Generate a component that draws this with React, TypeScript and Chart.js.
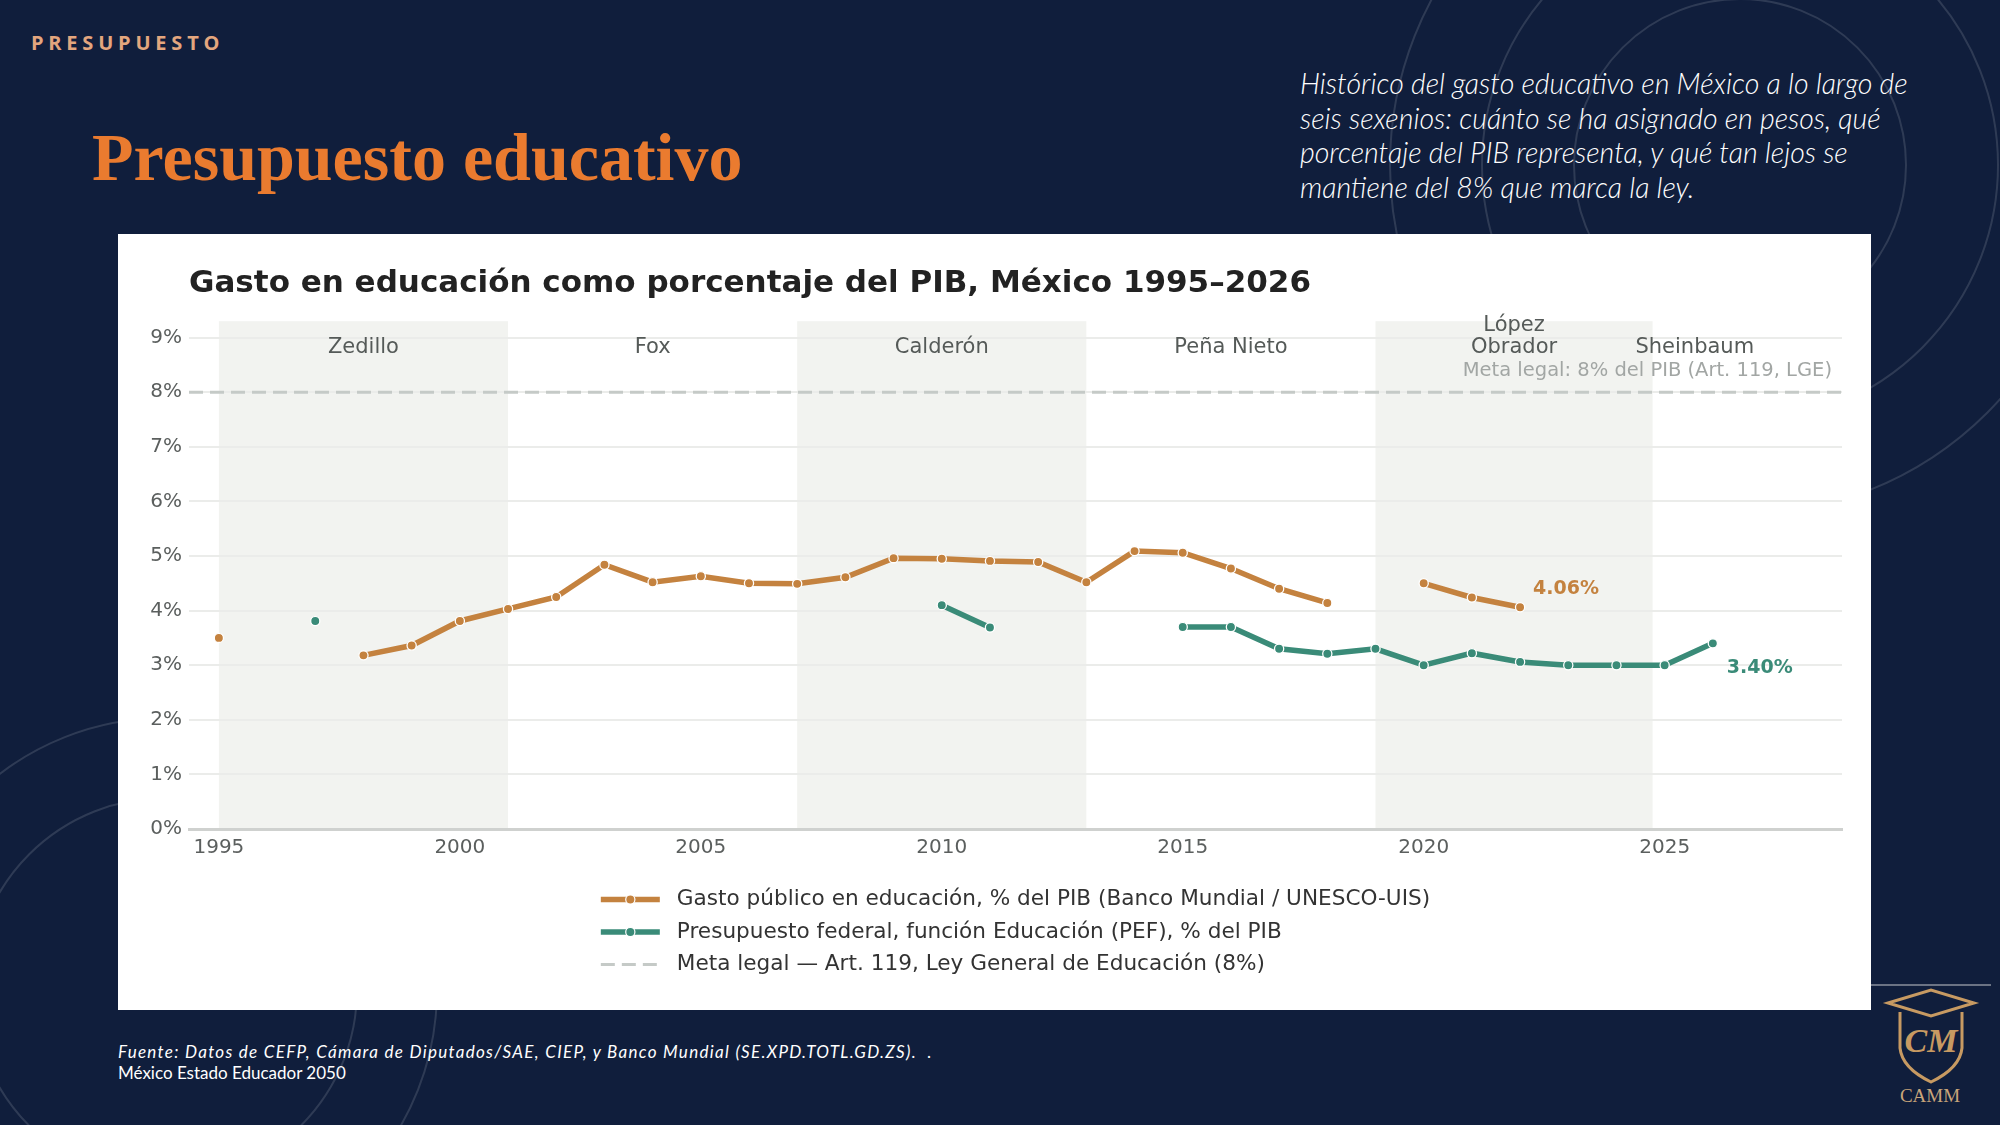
import { useEffect, useRef } from "react";
import { Chart, registerables } from "chart.js";

Chart.register(...registerables);

// ---------- data ----------
const years = [
  1995, 1996, 1997, 1998, 1999, 2000, 2001, 2002, 2003, 2004, 2005, 2006, 2007, 2008, 2009, 2010,
  2011, 2012, 2013, 2014, 2015, 2016, 2017, 2018, 2019, 2020, 2021, 2022, 2023, 2024, 2025, 2026,
];
// Gasto público en educación, % del PIB (Banco Mundial / UNESCO-UIS)
const gastoPublico: (number | null)[] = [
  3.5, null, null, 3.18, 3.36, 3.81, 4.03, 4.25, 4.84, 4.52, 4.63, 4.5, 4.49, 4.61, 4.96, 4.95,
  4.91, 4.89, 4.52, 5.09, 5.06, 4.77, 4.4, 4.14, null, 4.5, 4.24, 4.06, null, null, null, null,
];
// Presupuesto federal, función Educación (PEF), % del PIB
const presupuestoFederal: (number | null)[] = [
  null, null, 3.81, null, null, null, null, null, null, null, null, null, null, null, null, 4.1,
  3.69, null, null, null, 3.7, 3.7, 3.3, 3.21, 3.3, 3.0, 3.22, 3.06, 3.0, 3.0, 3.0, 3.4,
];
const metaLegal = 8;

const seriesLabels = [
  "Gasto público en educación, % del PIB (Banco Mundial / UNESCO-UIS)",
  "Presupuesto federal, función Educación (PEF), % del PIB",
  "Meta legal — Art. 119, Ley General de Educación (8%)",
];

const periodNames = ["Zedillo", "Fox", "Calderón", "Peña Nieto", "López\nObrador", "Sheinbaum"];
const periodStarts = [1995, 2001, 2007, 2013, 2019, 2024.75];
const periodEnds = [2001, 2007, 2013, 2019, 2024.75, 2026.5];

const xTicks = [1995, 2000, 2005, 2010, 2015, 2020, 2025];
const yTicks = [0, 1, 2, 3, 4, 5, 6, 7, 8, 9];

const X_MIN = 1994.38;
const X_MAX = 2028.68;
const Y_MAX = 9.3;

const CHART_TITLE = "Gasto en educación como porcentaje del PIB, México 1995–2026";
const META_LABEL = "Meta legal: 8% del PIB (Art. 119, LGE)";

// ---------- styles ----------
const ORANGE = "#c4823f";
const TEAL = "#3a8b78";
const META_GRAY = "#c5cac7";
const BAND = "#f2f3f0";
const FONT = "'DejaVu Sans', sans-serif";
const NAVY = "#101e3c";

const bandsPlugin = {
  id: "bands",
  beforeDraw(chart: any) {
    const { ctx, chartArea } = chart;
    const x = chart.scales.x;
    ctx.save();
    ctx.fillStyle = BAND;
    periodStarts.forEach((s, i) => {
      if (i % 2 !== 0) return;
      const x0 = x.getPixelForValue(s);
      const x1 = x.getPixelForValue(periodEnds[i]);
      ctx.fillRect(x0, chartArea.top, x1 - x0, chartArea.bottom - chartArea.top);
    });
    ctx.restore();
  },
};

const annotationsPlugin = {
  id: "annotations",
  afterDraw(chart: any) {
    const { ctx, chartArea } = chart;
    const x = chart.scales.x;
    const y = chart.scales.y;
    ctx.save();
    // period labels
    ctx.font = `21px ${FONT}`;
    ctx.fillStyle = "#555a58";
    ctx.textAlign = "center";
    ctx.textBaseline = "middle";
    periodNames.forEach((name, i) => {
      const cx = x.getPixelForValue((periodStarts[i] + periodEnds[i]) / 2);
      const lines = name.split("\n");
      const baseY = chartArea.top + 26;
      lines.forEach((ln, j) => {
        ctx.fillText(ln, cx, baseY - (lines.length - 1 - j) * 22);
      });
    });
    // meta label
    ctx.font = `19.5px ${FONT}`;
    ctx.fillStyle = "#a2a6a4";
    ctx.textAlign = "right";
    ctx.fillText(META_LABEL, chartArea.right - 10, y.getPixelForValue(metaLegal) - 21);
    // end labels
    const endLabel = (arr: (number | null)[], color: string, dx: number, dy: number) => {
      let idx = arr.length - 1;
      while (idx >= 0 && arr[idx] == null) idx--;
      const v = arr[idx] as number;
      const px = x.getPixelForValue(years[idx]);
      const py = y.getPixelForValue(v);
      ctx.font = `bold 19px ${FONT}`;
      ctx.fillStyle = color;
      ctx.textAlign = "left";
      ctx.textBaseline = "middle";
      ctx.fillText(v.toFixed(2) + "%", px + dx, py + dy);
    };
    endLabel(gastoPublico, ORANGE, 13, -18);
    endLabel(presupuestoFederal, TEAL, 14, 25);

    // stacked legend
    const ds = chart.data.datasets;
    ctx.font = `21.6px ${FONT}`;
    const maxW = Math.max(...ds.map((d: any) => ctx.measureText(d.label).width));
    const sampleW = 59;
    const gap = 17;
    const blockW = sampleW + gap + maxW;
    const left = (chartArea.left + chartArea.right) / 2 - blockW / 2;
    ds.forEach((d: any, i: number) => {
      const ly = chartArea.bottom + 70.5 + i * 32.5;
      ctx.save();
      ctx.strokeStyle = d.borderColor;
      ctx.lineWidth = d.borderDash ? 3 : 5.5;
      ctx.setLineDash(d.borderDash || []);
      ctx.beginPath();
      ctx.moveTo(left, ly);
      ctx.lineTo(left + sampleW, ly);
      ctx.stroke();
      if (d.pointRadius > 0) {
        ctx.setLineDash([]);
        ctx.beginPath();
        ctx.arc(left + sampleW / 2, ly, d.pointRadius, 0, Math.PI * 2);
        ctx.fillStyle = d.borderColor;
        ctx.fill();
        ctx.lineWidth = 1.2;
        ctx.strokeStyle = "#fff";
        ctx.stroke();
      }
      ctx.restore();
      ctx.fillStyle = "#333";
      ctx.textAlign = "left";
      ctx.textBaseline = "middle";
      ctx.fillText(d.label, left + sampleW + gap, ly);
    });
    ctx.restore();
  },
};

function ChartPanel() {
  const ref = useRef<HTMLCanvasElement | null>(null);
  useEffect(() => {
    if (!ref.current) return;
    const lineDs = (label: string, arr: (number | null)[], color: string) => ({
      label,
      data: years.map((yr, i) => ({ x: yr, y: arr[i] })),
      borderColor: color,
      backgroundColor: color,
      pointBackgroundColor: color,
      pointBorderColor: "#ffffff",
      pointBorderWidth: 1.3,
      pointRadius: 4.6,
      borderWidth: 5.5,
      spanGaps: false,
      tension: 0,
    });
    const chart = new Chart(ref.current, {
      type: "line",
      data: {
        datasets: [
          lineDs(seriesLabels[0], gastoPublico, ORANGE),
          lineDs(seriesLabels[1], presupuestoFederal, TEAL),
          {
            label: seriesLabels[2],
            data: [
              { x: X_MIN, y: metaLegal },
              { x: X_MAX, y: metaLegal },
            ],
            borderColor: META_GRAY,
            borderDash: [14, 7],
            borderWidth: 3,
            pointRadius: 0,
          },
        ] as any,
      },
      options: {
        responsive: false,
        animation: false,
        devicePixelRatio: 1,
        events: [],
        layout: { padding: { left: 0, right: 29, top: 0, bottom: 141 } },
        plugins: {
          legend: { display: false },
          tooltip: { enabled: false },
          title: {
            display: true,
            text: CHART_TITLE,
            align: "start",
            fullSize: false,
            color: "#222222",
            font: { family: FONT, size: 31, weight: "bold" },
            padding: { top: 31, bottom: 19 },
          },
        },
        scales: {
          x: {
            type: "linear",
            min: X_MIN,
            max: X_MAX,
            afterBuildTicks: (s: any) => {
              s.ticks = xTicks.map((v) => ({ value: v }));
            },
            afterFit: (s: any) => {
              s.height = 40;
            },
            grid: { display: false, drawTicks: false },
            border: { display: true, color: "#cfd1cf", width: 3 },
            ticks: {
              padding: 7,
              color: "#5b5f5e",
              font: { family: FONT, size: 20 },
              callback: (v: any) => String(v),
              maxRotation: 0,
            },
          },
          y: {
            min: 0,
            max: Y_MAX,
            afterBuildTicks: (s: any) => {
              s.ticks = yTicks.map((v) => ({ value: v }));
            },
            afterFit: (s: any) => {
              s.width = 71;
            },
            grid: { color: "#ebecea", lineWidth: 2, drawTicks: false },
            border: { display: false },
            ticks: {
              padding: 7,
              color: "#5b5f5e",
              font: { family: FONT, size: 20 },
              callback: (v: any) => v + "%",
            },
          },
        },
      } as any,
      plugins: [bandsPlugin, annotationsPlugin],
    });
    return () => chart.destroy();
  }, []);
  return (
    <canvas
      ref={ref}
      width={1753}
      height={776}
      style={{ position: "absolute", left: 118, top: 234, width: 1753, height: 776, background: "#ffffff" }}
    />
  );
}

function Decor() {
  const stroke = "rgba(255,255,255,0.13)";
  return (
    <svg width={2000} height={1125} style={{ position: "absolute", left: 0, top: 0 }}>
      {[166, 258, 350].map((r) => (
        <circle key={"a" + r} cx={1740} cy={165} r={r} fill="none" stroke={stroke} strokeWidth={2} />
      ))}
      {[192, 272].map((r) => (
        <circle key={"b" + r} cx={165} cy={990} r={r} fill="none" stroke={stroke} strokeWidth={2} />
      ))}
      <line x1={1871} y1={985} x2={1991} y2={985} stroke="#6b7384" strokeWidth={2} />
      <g fill="none" stroke="#c79a62" strokeWidth={3}>
        <path d="M1888 1003 L1931 990 L1974 1003 L1931 1016 Z" />
        <path d="M1900 1012 L1900 1048 Q1902 1068 1931 1082 Q1960 1068 1962 1048 L1962 1012" />
      </g>
      <text x={1931} y={1052} textAnchor="middle" fill="#c79a62" fontFamily="'Liberation Serif', serif" fontStyle="italic" fontWeight="bold" fontSize={34}>
        CM
      </text>
      <text x={1930} y={1102} textAnchor="middle" fill="#c9a57a" fontFamily="'Liberation Serif', serif" fontSize={19}>
        CAMM
      </text>
    </svg>
  );
}

export default function App() {
  useEffect(() => {
    document.body.style.margin = "0";
    document.body.style.overflow = "hidden";
    document.body.style.background = NAVY;
  }, []);
  return (
    <div style={{ position: "relative", width: 2000, height: 1125, background: NAVY, overflow: "hidden" }}>
      <Decor />
      <div
        style={{
          position: "absolute",
          left: 31,
          top: 30,
          fontFamily: "'Open Sans', sans-serif",
          fontWeight: 700,
          fontSize: 20,
          letterSpacing: 4.8,
          lineHeight: "26px",
          color: "#e3a67e",
        }}
      >
        PRESUPUESTO
      </div>
      <div
        style={{
          position: "absolute",
          left: 92,
          top: 123,
          fontFamily: "'Liberation Serif', serif",
          fontWeight: "bold",
          fontSize: 68,
          lineHeight: 1,
          color: "#ea7b2f",
          whiteSpace: "nowrap",
        }}
      >
        Presupuesto educativo
      </div>
      <div
        style={{
          position: "absolute",
          left: 1300,
          top: 66,
          fontFamily: "Lato, sans-serif",
          fontStyle: "italic",
          fontWeight: 300,
          fontSize: 28.5,
          lineHeight: "34.7px",
          color: "#ffffff",
          whiteSpace: "nowrap",
        }}
      >
        Histórico del gasto educativo en México a lo largo de
        <br />
        seis sexenios: cuánto se ha asignado en pesos, qué
        <br />
        porcentaje del PIB representa, y qué tan lejos se
        <br />
        mantiene del 8% que marca la ley.
      </div>
      <ChartPanel />
      <div
        style={{
          position: "absolute",
          left: 118,
          top: 1041,
          fontFamily: "Lato, sans-serif",
          fontSize: 17,
          lineHeight: "21px",
          color: "#ffffff",
          whiteSpace: "nowrap",
        }}
      >
        <span style={{ fontStyle: "italic", letterSpacing: 1.3 }}>
          Fuente: Datos de CEFP, Cámara de Diputados/SAE, CIEP, y Banco Mundial (SE.XPD.TOTL.GD.ZS). &nbsp;.
        </span>
        <br />
        México Estado Educador 2050
      </div>
    </div>
  );
}
